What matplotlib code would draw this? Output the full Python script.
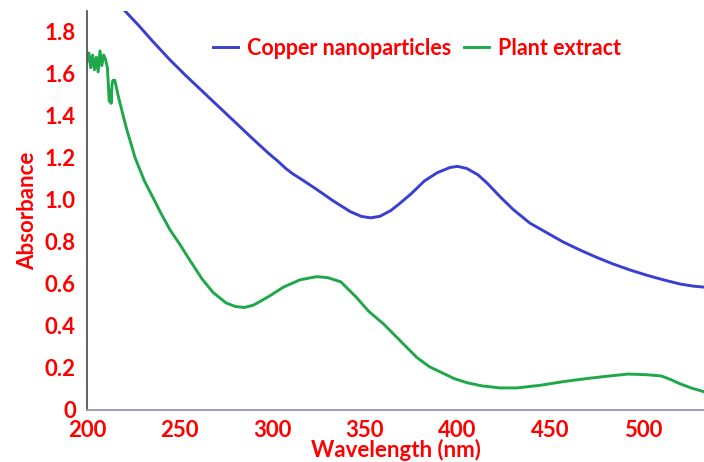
"""UV-vis absorbance spectra: copper nanoparticles vs. plant extract."""
import matplotlib.pyplot as plt

# Copper nanoparticle spectrum (nm, absorbance)
cu_wl = [215, 220, 228, 235, 245, 253, 262, 271, 280, 289, 298, 303, 307,
         311, 316, 324, 333, 342, 348, 353, 358, 364, 369, 375, 382, 389,
         396, 400, 405, 411, 416, 423, 430, 439, 448, 457, 466, 475, 484,
         493, 502, 511, 520, 527, 533]
cu_abs = [1.96, 1.905, 1.83, 1.76, 1.665, 1.595, 1.52, 1.445, 1.37, 1.295,
          1.222, 1.185, 1.152, 1.125, 1.097, 1.05, 0.995, 0.945, 0.922, 0.915,
          0.922, 0.95, 0.985, 1.03, 1.09, 1.13, 1.155, 1.16, 1.15, 1.12, 1.08,
          1.015, 0.955, 0.89, 0.845, 0.80, 0.762, 0.727, 0.695, 0.667, 0.642,
          0.62, 0.60, 0.59, 0.585]

# Plant extract spectrum (noisy below ~215 nm)
pe_wl = [200, 201, 202, 203, 204, 205, 206, 207, 208, 209, 210, 211, 211.5,
         212, 212.5, 213, 213.5, 214, 215, 217, 221, 226, 231, 236, 240, 245,
         250, 255, 262, 268, 275, 280, 285, 290, 298, 306, 315, 324, 330, 337,
         345, 352, 360, 369, 378, 385, 391, 398, 405, 413, 423, 432, 445, 457,
         470, 482, 492, 502, 510, 515, 520, 526, 533]
pe_abs = [1.66, 1.70, 1.63, 1.69, 1.62, 1.68, 1.61, 1.71, 1.64, 1.69, 1.67,
          1.63, 1.55, 1.47, 1.52, 1.46, 1.55, 1.57, 1.57, 1.49, 1.35, 1.20,
          1.09, 1.005, 0.935, 0.855, 0.79, 0.72, 0.625, 0.56, 0.51, 0.493,
          0.488, 0.50, 0.54, 0.585, 0.62, 0.635, 0.63, 0.61, 0.54, 0.47,
          0.41, 0.33, 0.25, 0.205, 0.18, 0.15, 0.13, 0.115, 0.105, 0.105,
          0.118, 0.135, 0.15, 0.162, 0.171, 0.168, 0.162, 0.145, 0.125,
          0.105, 0.087]

x_ticks = [200, 250, 300, 350, 400, 450, 500]
y_ticks = [0, 0.2, 0.4, 0.6, 0.8, 1.0, 1.2, 1.4, 1.6, 1.8]
y_tick_labels = ["0", "0.2", "0.4", "0.6", "0.8", "1.0", "1.2", "1.4", "1.6", "1.8"]

RED = "#ff0000"
plt.rcParams["font.family"] = ["Lato", "DejaVu Sans"]

fig = plt.figure(figsize=(7.04, 4.62), dpi=100)
ax = fig.add_axes([0.1236, 0.1126, 0.8764, 0.8636])

ax.plot(cu_wl, cu_abs, color="#3a3fd0", lw=2.1, label="Copper nanoparticles")
ax.plot(pe_wl, pe_abs, color="#1fa84a", lw=2.1, label="Plant extract")

ax.set_xlim(200, 533)
ax.set_ylim(0, 1.9)
ax.set_xticks(x_ticks)
ax.set_yticks(y_ticks, y_tick_labels)
ax.tick_params(length=0, labelsize=16, labelcolor=RED)
ax.tick_params(axis="y", pad=8)
ax.tick_params(axis="x", pad=7)
for lbl in ax.get_xticklabels() + ax.get_yticklabels():
    lbl.set_fontweight("bold")

ax.set_xlabel("Wavelength (nm)", color=RED, fontsize=16, fontweight="bold",
              labelpad=-1)
ax.set_ylabel("Absorbance", color=RED, fontsize=16, fontweight="bold",
              labelpad=5)

for side in ("top", "right"):
    ax.spines[side].set_visible(False)
ax.spines["left"].set_color("#555555")
ax.spines["left"].set_linewidth(1.3)
ax.spines["bottom"].set_color("#9a92aa")
ax.spines["bottom"].set_linewidth(1.3)

leg = ax.legend(loc="center left", bbox_to_anchor=(0.275, 0.895),
                bbox_transform=fig.transFigure, ncol=2, frameon=False,
                handlelength=1.15, handletextpad=0.42, columnspacing=0.6,
                prop={"weight": "bold", "size": 15.5})
for t in leg.get_texts():
    t.set_color(RED)

fig.savefig("out.png", dpi=100)
